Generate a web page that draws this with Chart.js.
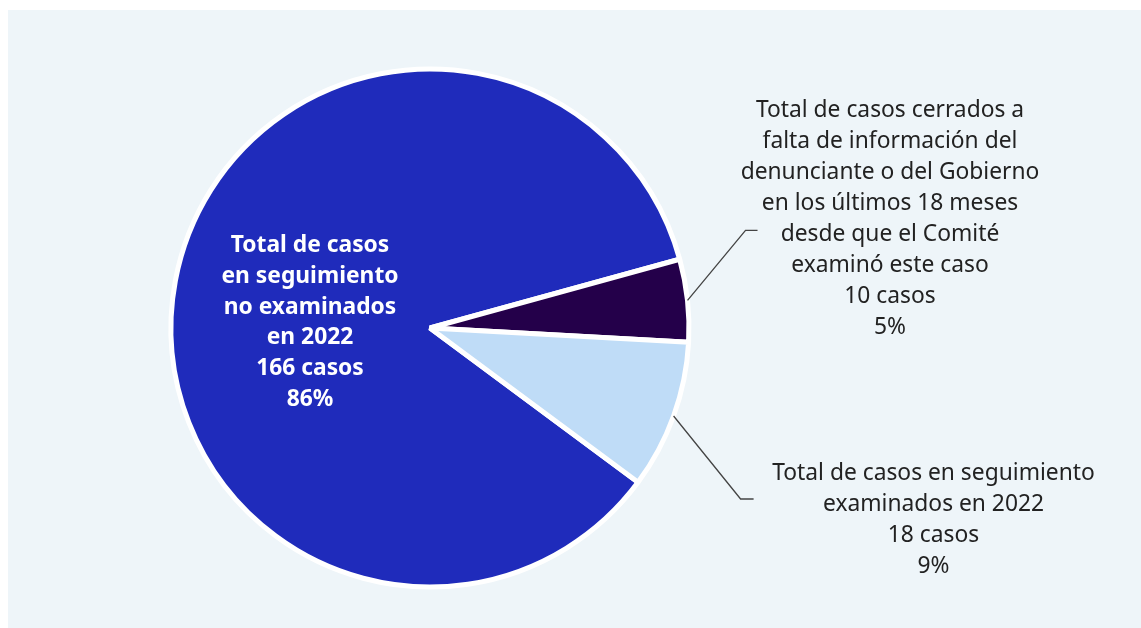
<!DOCTYPE html>
<html>
<head>
<meta charset="utf-8">
<script src="https://cdn.jsdelivr.net/npm/chart.js@4.4.1/dist/chart.umd.min.js"></script>
<style>
  html, body { margin: 0; padding: 0; background: #ffffff; }
  #wrap { position: relative; width: 1141px; height: 628px; }
  #panel { position: absolute; left: 8px; top: 10px; right: 0; bottom: 0; background: #EEF5F9; }
  #c { position: absolute; left: 0; top: 0; }
</style>
</head>
<body>
<div id="wrap">
  <div id="panel"></div>
  <canvas id="c" width="1141" height="628"></canvas>
</div>
<script>
// ---- Data ----
const categories = [
  "Total de casos en seguimiento no examinados en 2022",
  "Total de casos cerrados a falta de información del denunciante o del Gobierno en los últimos 18 meses desde que el Comité examinó este caso",
  "Total de casos en seguimiento examinados en 2022"
];
const caseCounts = [166, 10, 18];
const percentLabels = ["86%", "5%", "9%"];
const labelLines = [
  ["Total de casos", "en seguimiento", "no examinados", "en 2022", "166 casos", "86%"],
  ["Total de casos cerrados a", "falta de información del", "denunciante o del Gobierno", "en los últimos 18 meses", "desde que el Comité", "examinó este caso", "10 casos", "5%"],
  ["Total de casos en seguimiento", "examinados en 2022", "18 casos", "9%"]
];
const sliceColors = ["#1F2BBB", "#24004A", "#BFDCF7"];

// ---- Label layout (positions relative to pie centre) ----
const labelLayout = [
  { dx: -120, firstBaseline: -76, step: 30.8, color: "#ffffff", weight: "bold", leader: null },
  { dx: 460, firstBaseline: -211.5, step: 31, color: "#222222", weight: "normal",
    leader: { elbowDx: 58, elbowDy: -70, tail: 12 } },
  { dx: 503.5, firstBaseline: 152, step: 31, color: "#222222", weight: "normal",
    leader: { elbowDx: 67, elbowDy: 83, tail: 13 } }
];

const labelPlugin = {
  id: 'sliceLabels',
  afterDatasetsDraw(chart) {
    const ctx = chart.ctx;
    const meta = chart.getDatasetMeta(0);
    meta.data.forEach((arc, i) => {
      const cx = arc.x, cy = arc.y;
      const L = labelLayout[i];
      ctx.save();
      if (L.leader) {
        const mid = (arc.startAngle + arc.endAngle) / 2;
        const r = arc.outerRadius;
        const px = cx + Math.cos(mid) * r;
        const py = cy + Math.sin(mid) * r;
        const ex = px + L.leader.elbowDx, ey = py + L.leader.elbowDy;
        ctx.strokeStyle = "#444444";
        ctx.lineWidth = 1.3;
        ctx.beginPath();
        ctx.moveTo(px, py);
        ctx.lineTo(ex, ey);
        ctx.lineTo(ex + L.leader.tail, ey);
        ctx.stroke();
      }
      ctx.fillStyle = L.color;
      ctx.font = L.weight + " 22.8px 'Noto Sans', 'Open Sans', sans-serif";
      ctx.textAlign = "center";
      ctx.textBaseline = "alphabetic";
      labelLines[i].forEach((line, k) => {
        ctx.fillText(line, cx + L.dx, cy + L.firstBaseline + k * L.step);
      });
      ctx.restore();
    });
  }
};

new Chart(document.getElementById('c'), {
  type: 'pie',
  data: {
    labels: categories,
    datasets: [{
      data: caseCounts,
      backgroundColor: sliceColors,
      borderColor: "#ffffff",
      borderWidth: 5,
      radius: 259
    }]
  },
  options: {
    responsive: false,
    animation: false,
    rotation: 126.56,
    layout: { padding: { left: 0, right: 281, top: 28, bottom: 0 } },
    plugins: {
      legend: { display: false },
      tooltip: { enabled: false }
    }
  },
  plugins: [labelPlugin]
});
</script>
</body>
</html>
